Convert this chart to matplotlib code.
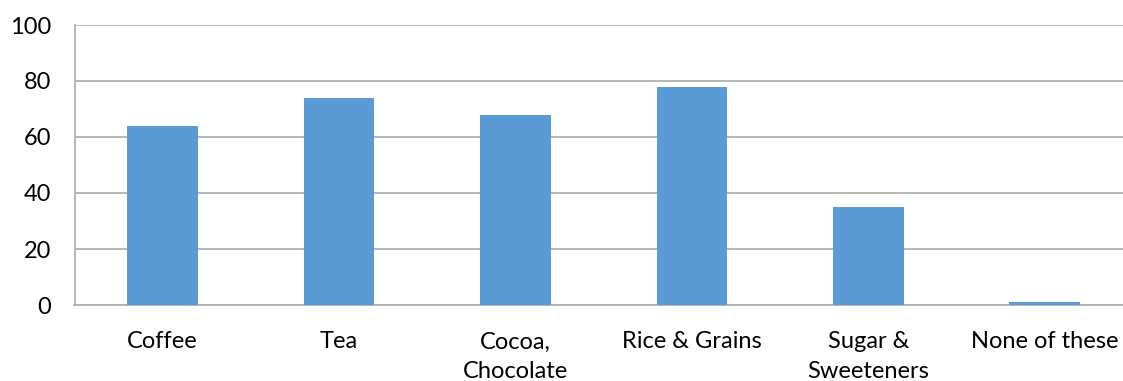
import matplotlib
matplotlib.use("Agg")
import matplotlib.pyplot as plt

categories = ["Coffee", "Tea", "Cocoa,\nChocolate", "Rice & Grains", "Sugar &\nSweeteners", "None of these"]
values = [64, 74, 68, 78, 35, 1]
y_ticks = [0, 20, 40, 60, 80, 100]

bar_color = "#5B9BD5"
grid_color = "#B0B0B0"

plt.rcParams["font.family"] = ["Lato", "DejaVu Sans"]

fig = plt.figure(figsize=(11.23, 3.81), dpi=100)
ax = fig.add_axes([74.5 / 1123, 1 - 305 / 381, (6 * 176.4) / 1123, 280 / 381])

x = list(range(len(categories)))
ax.bar(x, values, width=0.4, color=bar_color, zorder=3)

ax.set_xlim(-0.5, len(categories) - 0.5)
ax.set_ylim(0, 100)
ax.set_yticks(y_ticks)
ax.set_yticklabels([str(v) for v in y_ticks])
ax.set_xticks(x)
ax.set_xticklabels(categories, linespacing=1.5)

ax.yaxis.grid(True, color=grid_color, linewidth=1.3, zorder=0)
ax.set_axisbelow(True)
for side in ("top", "right"):
    ax.spines[side].set_visible(False)
ax.spines["left"].set_color(grid_color)
ax.spines["bottom"].set_color(grid_color)
ax.spines["left"].set_linewidth(1.3)
ax.spines["bottom"].set_linewidth(1.3)

ax.tick_params(axis="both", length=0, labelsize=17, colors="black")
ax.tick_params(axis="x", pad=19)
ax.tick_params(axis="y", pad=17)

fig.savefig("out.png", dpi=100)
